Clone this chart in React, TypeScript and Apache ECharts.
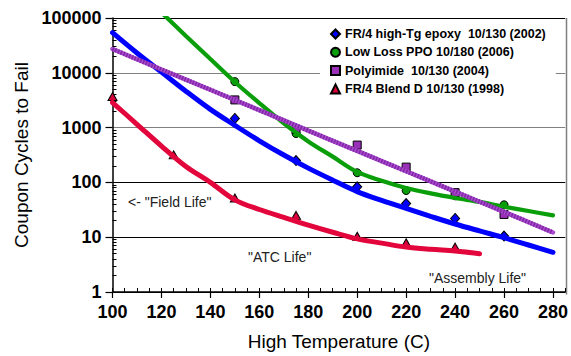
import React, { useEffect, useRef } from 'react';
import * as echarts from 'echarts';

const FONT = '"Liberation Sans", Arial, Helvetica, sans-serif';

// Legend / series names
const names = [
  'FR/4 high-Tg epoxy  10/130 (2002)',
  'Low Loss PPO 10/180 (2006)',
  'Polyimide  10/130 (2004)',
  'FR/4 Blend D 10/130 (1998)',
];

// Measured points (markers)
const epoxyPtX = [150, 175, 200, 220, 240, 260];
const epoxyPtY = [1470, 250, 83, 41, 22, 10.5];
const ppoPtX = [150, 175, 200, 220, 240, 260];
const ppoPtY = [6900, 780, 150, 71, 57, 39];
const polyPtX = [150, 175, 200, 220, 240, 260];
const polyPtY = [3200, 930, 480, 190, 65, 26];
const blendPtX = [100, 125, 150, 175, 200, 220, 240];
const blendPtY = [3700, 318, 52, 25, 10.4, 7.9, 6.6];

// Fitted curves
const epoxyFitX = [100, 110, 120, 130, 140, 150, 160, 170, 180, 190, 200, 210, 220, 230, 240, 250, 260, 270, 280];
const epoxyFitY = [54000, 23000, 10300, 4600, 2150, 1100, 575, 316, 182, 110, 68, 47, 33.5, 24, 17.4, 13, 9.8, 7.2, 5.3];
const ppoFitX = [120, 130, 140, 150, 160, 170, 180, 190, 200, 210, 220, 230, 240, 250, 260, 270, 280];
const ppoFitY = [126000, 47000, 17800, 6800, 2800, 1200, 560, 295, 155, 107, 79, 63, 52, 44, 36, 30, 25];
const polyFitX = [100, 120, 140, 160, 180, 200, 220, 240, 260, 280];
const polyFitY = [27200, 11500, 4900, 2080, 880, 375, 160, 68, 29, 12.2];
const blendFitX = [100, 110, 120, 130, 140, 150, 160, 170, 180, 190, 200, 210, 220, 230, 240, 250];
const blendFitY = [2870, 1150, 460, 195, 100, 48, 32, 23, 16.6, 12.3, 9.3, 7.8, 6.6, 6.0, 5.6, 5.0];

// Axis ticks
const xMajorTicks = [100, 120, 140, 160, 180, 200, 220, 240, 260, 280];
const yMinorTicks = [
  2, 3, 4, 5, 6, 7, 8, 9,
  20, 30, 40, 50, 60, 70, 80, 90,
  200, 300, 400, 500, 600, 700, 800, 900,
  2000, 3000, 4000, 5000, 6000, 7000, 8000, 9000,
  20000, 30000, 40000, 50000, 60000, 70000, 80000, 90000,
];

const zip = (xs: number[], ys: number[]) => xs.map((x, i) => [x, ys[i]]);

const COLORS = {
  blue: '#0000ff',
  green: '#0a9e0a',
  purple: '#a64ccc',
  purpleDark: '#8424a8',
  red: '#e2063c',
};

export default function App() {
  const ref = useRef<HTMLDivElement>(null);
  useEffect(() => {
    const chart = echarts.init(ref.current!, null, { renderer: 'svg' });
    const lineBase = (name: string, xs: number[], ys: number[], color: string, width: number, extra: any = {}) => ({
      type: 'line',
      name,
      data: zip(xs, ys),
      smooth: 0.35,
      showSymbol: false,
      symbol: 'none',
      z: 3,
      lineStyle: { color, width, cap: 'round', ...extra },
      emphasis: { disabled: true },
      silent: true,
    });
    const scatter = (name: string, xs: number[], ys: number[], color: string, symbol: string, size: any) => ({
      type: 'scatter',
      name,
      data: zip(xs, ys),
      symbol,
      symbolSize: size,
      z: 2,
      itemStyle: { color, borderColor: '#000', borderWidth: 1, opacity: 1 },
      emphasis: { disabled: true },
      silent: true,
    });
    const option: any = {
      animation: false,
      backgroundColor: '#ffffff',
      textStyle: { fontFamily: FONT },
      grid: { left: 112.5, right: 4.5, top: 18, bottom: 61.5, containLabel: false },
      legend: {
        orient: 'vertical',
        left: 320,
        top: 22,
        padding: [5, 10, 5, 10],
        backgroundColor: '#ffffff',
        itemWidth: 9,
        itemHeight: 9,
        itemGap: 4.3,
        selectedMode: false,
        textStyle: { fontFamily: FONT, fontWeight: 'bold', fontSize: 12.5, color: '#000', lineHeight: 14 },
        data: [
          { name: names[0], icon: 'diamond' },
          { name: names[1], icon: 'circle' },
          { name: names[2], icon: 'rect' },
          { name: names[3], icon: 'triangle' },
        ],
      },
      xAxis: [
        {
          type: 'value',
          min: 100,
          max: 285,
          interval: 20,
          position: 'bottom',
          axisLine: { lineStyle: { color: '#000', width: 1.5 } },
          axisTick: { length: 6, customValues: xMajorTicks, lineStyle: { color: '#000', width: 1.2 } },
          axisLabel: {
            customValues: xMajorTicks,
            margin: 11,
            fontSize: 18,
            fontWeight: 'bold',
            color: '#000',
            fontFamily: FONT,
          },
          splitLine: { show: false },
          name: 'High Temperature (C)',
          nameLocation: 'middle',
          nameGap: 40,
          nameTextStyle: { fontSize: 19, color: '#000', fontFamily: FONT },
        },
        {
          type: 'value',
          min: 100,
          max: 285,
          interval: 5,
          position: 'bottom',
          axisLine: { show: false },
          axisTick: { inside: true, length: 4, lineStyle: { color: '#000', width: 1 } },
          axisLabel: { show: false },
          splitLine: { show: false },
        },
      ],
      yAxis: [
        {
          type: 'log',
          logBase: 10,
          min: 1,
          max: 100000,
          position: 'left',
          axisLine: { show: true, lineStyle: { color: '#000', width: 1.5 } },
          axisTick: { show: true, length: 7, lineStyle: { color: '#000', width: 1.2 } },
          axisLabel: {
            margin: 11,
            fontSize: 18,
            fontWeight: 'bold',
            color: '#000',
            fontFamily: FONT,
            formatter: (v: number) => String(Math.round(v)),
          },
          splitLine: {
            show: true,
            lineStyle: { color: ['#000', '#000', '#000', '#808080', '#808080', '#000'], width: 1.2 },
          },
          name: 'Coupon Cycles to Fail',
          nameLocation: 'middle',
          nameGap: 81,
          nameTextStyle: { fontSize: 19, color: '#000', fontFamily: FONT },
        },
        {
          type: 'log',
          logBase: 10,
          min: 1,
          max: 100000,
          position: 'left',
          axisLine: { show: false },
          axisTick: { show: true, inside: true, length: 4, customValues: yMinorTicks, lineStyle: { color: '#000', width: 1 } },
          axisLabel: { show: false },
          splitLine: { show: false },
        },
      ],
      series: [
        scatter(names[0], epoxyPtX, epoxyPtY, COLORS.blue, 'diamond', [9, 10]),
        scatter(names[1], ppoPtX, ppoPtY, COLORS.green, 'circle', 8),
        scatter(names[2], polyPtX, polyPtY, '#9a2fb8', 'rect', 8),
        scatter(names[3], blendPtX, blendPtY, '#d8003a', 'triangle', [9, 8]),
        lineBase('epoxy fit', epoxyFitX, epoxyFitY, COLORS.blue, 5),
        lineBase('ppo fit', ppoFitX, ppoFitY, COLORS.green, 4.2),
        lineBase('polyimide fit', polyFitX, polyFitY, COLORS.purple, 4.5),
        lineBase('polyimide fit texture', polyFitX, polyFitY, COLORS.purpleDark, 4.5, { type: [1.5, 1.5], cap: 'butt' }),
        lineBase('blend fit', blendFitX, blendFitY, COLORS.red, 5),
      ],
      graphic: [
        {
          type: 'line',
          silent: true,
          shape: { x1: 566.5, y1: 18, x2: 566.5, y2: 294.5 },
          style: { stroke: '#808080', lineWidth: 1.5 },
        },
        {
          type: 'text',
          x: 128,
          y: 202,
          silent: true,
          style: { text: '<- "Field Life"', fontSize: 14, fontFamily: FONT, fill: '#222', verticalAlign: 'middle', textVerticalAlign: 'middle' },
        },
        {
          type: 'text',
          x: 248,
          y: 257,
          silent: true,
          style: { text: '"ATC Life"', fontSize: 14, fontFamily: FONT, fill: '#222', verticalAlign: 'middle', textVerticalAlign: 'middle' },
        },
        {
          type: 'text',
          x: 429,
          y: 278,
          silent: true,
          style: { text: '"Assembly Life"', fontSize: 14, fontFamily: FONT, fill: '#222', verticalAlign: 'middle', textVerticalAlign: 'middle' },
        },
      ],
    };
    chart.setOption(option);
    return () => chart.dispose();
  }, []);
  return (
    <div
      ref={ref}
      style={{ position: 'fixed', left: 0, top: 0, width: 571, height: 356, background: '#fff' }}
    />
  );
}
